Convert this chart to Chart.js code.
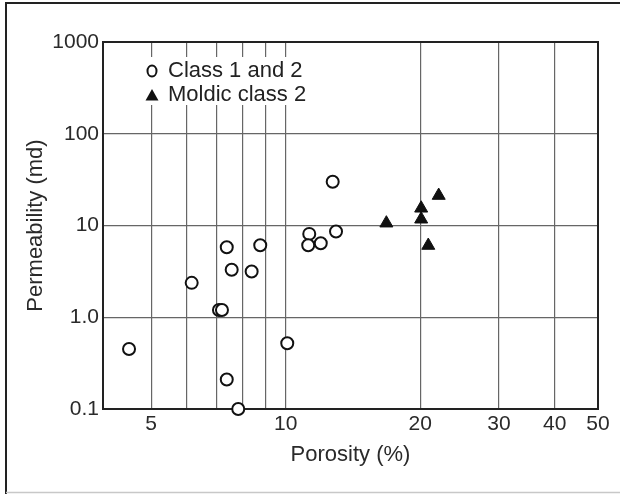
<!DOCTYPE html>
<html><head><meta charset="utf-8">
<script src="https://cdn.jsdelivr.net/npm/chart.js@4.4.1/dist/chart.umd.min.js"></script>
<style>html,body{margin:0;padding:0;background:#fff;}#wrap{width:620px;height:494px;position:relative;}</style>
</head><body><div id="wrap"><canvas id="c" width="620" height="494"></canvas></div>
<script>
const seriesNames = ['Class 1 and 2', 'Moldic class 2'];
const class12Porosity = [4.46, 6.16, 7.09, 7.2, 7.38, 7.57, 8.39, 8.77, 10.08, 7.38, 7.83, 11.29, 11.23, 11.98, 12.96, 12.74];
const class12Perm     = [0.45, 2.37, 1.2, 1.2, 5.8, 3.3, 3.15, 6.1, 0.52, 0.21, 0.1, 8.1, 6.1, 6.4, 8.6, 30];
const moldicPorosity  = [16.8, 20.1, 20.1, 22.0, 20.85];
const moldicPerm      = [10.6, 15.4, 11.7, 21.2, 6.05];
const xTickValues = [5, 6, 7, 8, 9, 10, 20, 30, 40, 50];
const xTickLabels = ['5', '', '', '', '', '10', '20', '30', '40', '50'];
const yTickValues = [0.1, 1, 10, 100, 1000];
const yTickLabels = ['0.1', '1.0', '10', '100', '1000'];
const xTitle = 'Porosity (%)';
const yTitle = 'Permeability (md)';

const FONT = '"Liberation Sans", Arial, sans-serif';
const toPts = (xs, ys) => xs.map((x, i) => ({x: x, y: ys[i]}));

const framePlugin = {
  id: 'frame',
  beforeDraw(chart) {
    const ctx = chart.ctx;
    ctx.save();
    ctx.fillStyle = '#fff';
    ctx.fillRect(0, 0, chart.width, chart.height);
    ctx.strokeStyle = '#222';
    ctx.lineWidth = 2;
    ctx.beginPath();
    ctx.moveTo(6, 494); ctx.lineTo(6, 3); ctx.lineTo(620, 3);
    ctx.stroke();
    ctx.strokeStyle = '#c8c8c8';
    ctx.lineWidth = 1.5;
    ctx.beginPath();
    ctx.moveTo(6, 492.5); ctx.lineTo(620, 492.5);
    ctx.stroke();
    ctx.restore();
  },
  beforeDatasetsDraw(chart) {
    const ctx = chart.ctx;
    const a = chart.chartArea;
    ctx.save();
    ctx.strokeStyle = '#222';
    ctx.lineWidth = 2;
    ctx.strokeRect(a.left, a.top, a.right - a.left, a.bottom - a.top);
    // legend
    ctx.fillStyle = '#fff';
    ctx.fillRect(140, 57, 175, 48);
    ctx.lineWidth = 2;
    ctx.strokeStyle = '#111';
    ctx.beginPath();
    ctx.ellipse(152, 71, 4.5, 5.5, 0, 0, Math.PI * 2);
    ctx.stroke();
    ctx.fillStyle = '#111';
    ctx.beginPath();
    ctx.moveTo(152, 89); ctx.lineTo(158.5, 100.5); ctx.lineTo(145.5, 100.5);
    ctx.closePath(); ctx.fill();
    ctx.font = '22px ' + FONT;
    ctx.fillStyle = '#222';
    ctx.textBaseline = 'middle';
    ctx.textAlign = 'left';
    ctx.fillText(seriesNames[0], 168, 71);
    ctx.fillText(seriesNames[1], 168, 95);
    ctx.restore();
  }
};

new Chart(document.getElementById('c'), {
  type: 'scatter',
  data: {
    datasets: [
      {
        label: seriesNames[0],
        data: toPts(class12Porosity, class12Perm),
        pointStyle: 'circle',
        pointRadius: 6,
        pointBorderWidth: 2,
        borderColor: '#111',
        backgroundColor: '#fff',
        clip: false
      },
      {
        label: seriesNames[1],
        data: toPts(moldicPorosity, moldicPerm),
        pointStyle: 'triangle',
        pointRadius: 7.5,
        pointBorderWidth: 1,
        borderColor: '#111',
        backgroundColor: '#111',
        clip: false
      }
    ]
  },
  options: {
    responsive: false,
    animation: false,
    devicePixelRatio: 1,
    layout: {padding: {top: 42, right: 22, bottom: 0, left: 0}},
    plugins: {legend: {display: false}, tooltip: {enabled: false}},
    scales: {
      x: {
        type: 'logarithmic',
        min: 3.9, max: 50,
        afterBuildTicks: s => { s.ticks = xTickValues.map(v => ({value: v})); },
        afterFit: s => { s.height = 85; },
        ticks: {
          autoSkip: false, maxRotation: 0, minRotation: 0, padding: 3,
          color: '#2a2a2a', font: {family: FONT, size: 21},
          callback: (v, i) => xTickLabels[i]
        },
        grid: {color: '#666', lineWidth: 1.2, drawTicks: false},
        border: {display: true, color: '#222', width: 2},
        title: {display: true, text: xTitle, color: '#2a2a2a', font: {family: FONT, size: 22}, padding: {top: 0, bottom: 26}}
      },
      y: {
        type: 'logarithmic',
        min: 0.1, max: 1000,
        afterBuildTicks: s => { s.ticks = yTickValues.map(v => ({value: v})); },
        afterFit: s => { s.width = 103; },
        ticks: {
          autoSkip: false, padding: 4,
          color: '#2a2a2a', font: {family: FONT, size: 21},
          callback: (v, i) => yTickLabels[i]
        },
        grid: {color: '#666', lineWidth: 1.2, drawTicks: false},
        border: {display: true, color: '#222', width: 2},
        title: {display: true, text: yTitle, color: '#2a2a2a', font: {family: FONT, size: 22}, padding: {top: 23, bottom: 0}}
      }
    }
  },
  plugins: [framePlugin]
});
</script>
</body></html>
